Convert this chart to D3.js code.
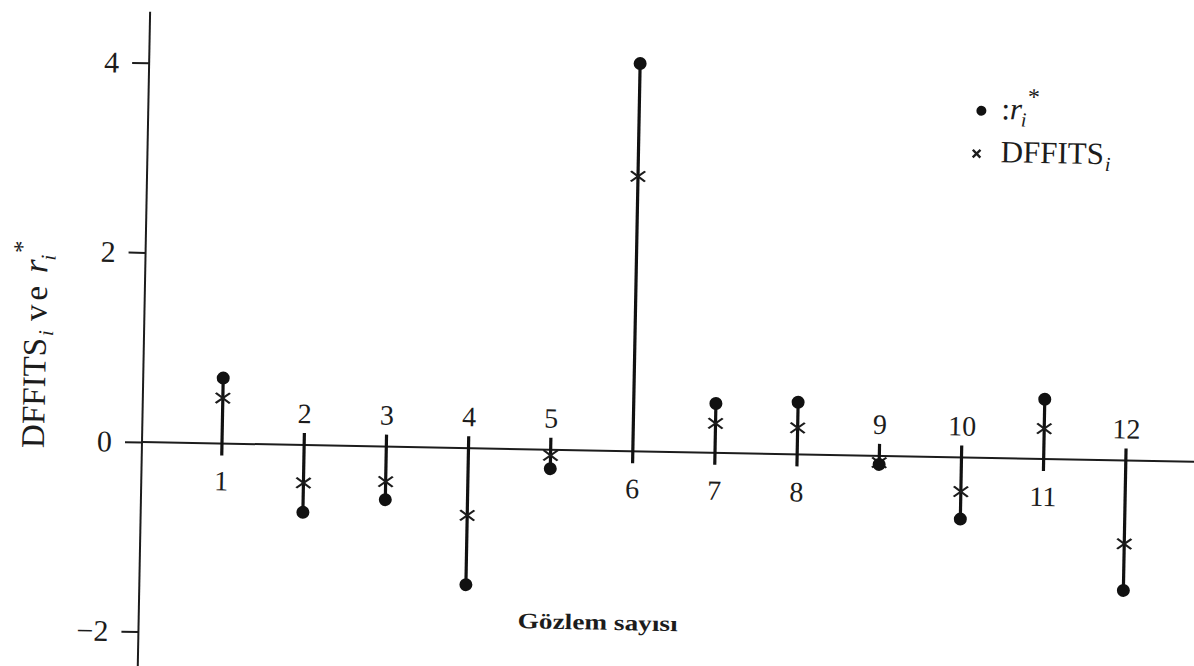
<!DOCTYPE html>
<html>
<head>
<meta charset="utf-8">
<style>
  body { margin: 0; background: #fff; }
  text { font-family: "Liberation Serif", "DejaVu Serif", serif; fill: #1c1c1c; }
</style>
</head>
<body>
<div class="chartContainer"></div>

<script src="https://d3js.org/d3.v7.min.js"></script>
<script>
    // gözlem numaraları ve değerler
    const obs = [1, 2, 3, 4, 5, 6, 7, 8, 9, 10, 11, 12];
    const rStar = [0.69, -0.71, -0.56, -1.44, -0.20, 4.09, 0.52, 0.55, -0.09, -0.65, 0.63, -1.37];
    const dffits = [0.48, -0.40, -0.37, -0.71, -0.06, 2.90, 0.31, 0.28, -0.07, -0.36, 0.32, -0.88];
    const yTicks = [-2, 0, 2, 4];

    const W = 1194, H = 666;
    const ox = 142, oy = 442;   // eksenlerin kesişimi
    const tilt = 1.08;          // taranmış sayfanın eğikliği

    const svg = d3.select('.chartContainer')
                  .append('svg')
                  .attr('width', W)
                  .attr('height', H);

    const g = svg.append('g')
                 .attr('transform', `rotate(${tilt},${ox},${oy})`);

    const x = d3.scaleLinear().domain([1, 12]).range([222, 1126]);
    const y = d3.scaleLinear().domain([-2, 4]).range([oy + 2 * 94.8, oy - 4 * 94.8]);

    // y ekseni
    g.append('line')
     .attr('x1', ox).attr('x2', ox)
     .attr('y1', y(4.54)).attr('y2', y(-2.8))
     .style('stroke', '#1c1c1c').style('stroke-width', 2);

    const yAxis = g.append('g')
                   .attr('transform', `translate(${ox},0)`)
                   .call(d3.axisLeft(y).tickValues(yTicks).tickFormat(d3.format('d')).tickSize(17).tickPadding(13));
    yAxis.select('.domain').remove();
    yAxis.selectAll('.tick line').style('stroke', '#1c1c1c').style('stroke-width', 2);
    yAxis.selectAll('.tick text')
         .style('font-size', '30px')
         .style('font-family', '"Liberation Serif", serif')
         .attr('fill', '#1c1c1c');

    // sıfır çizgisi
    g.append('line')
     .attr('x1', ox).attr('x2', 1230)
     .attr('y1', y(0)).attr('y2', y(0))
     .style('stroke', '#1c1c1c').style('stroke-width', 2);

    const rows = obs.map((d, i) => ({ n: d, r: rStar[i], f: dffits[i] }));

    // gövde çizgileri
    g.append('g')
     .selectAll('line')
     .data(rows)
     .enter()
     .append('line')
     .attr('x1', d => x(d.n)).attr('x2', d => x(d.n))
     .attr('y1', d => d.r >= 0 ? y(0) + 12 : y(0) - 12)
     .attr('y2', d => y(d.r))
     .style('stroke', '#111')
     .style('stroke-width', 3.2);

    // gözlem numaraları
    g.append('g')
     .selectAll('text')
     .data(rows)
     .enter()
     .append('text')
     .attr('x', d => x(d.n))
     .attr('y', d => d.r >= 0 ? y(0) + 47 : y(0) - 22)
     .attr('text-anchor', 'middle')
     .style('font-size', '28px')
     .text(d => d.n);

    // DFFITS işaretleri
    const cross = d3.symbol().type(d3.symbolX).size(86);
    g.append('g')
     .selectAll('path')
     .data(rows)
     .enter()
     .append('path')
     .attr('d', cross)
     .attr('transform', d => `translate(${x(d.n)},${y(d.f)}) scale(1.25,0.9)`)
     .style('fill', 'none')
     .style('stroke', '#1c1c1c')
     .style('stroke-width', 2);

    // r* noktaları
    g.append('g')
     .selectAll('circle')
     .data(rows)
     .enter()
     .append('circle')
     .attr('cx', d => x(d.n))
     .attr('cy', d => y(d.r))
     .attr('r', 6.5)
     .style('fill', '#111');

    // lejant
    g.append('circle').attr('cx', 975).attr('cy', 95).attr('r', 5).style('fill', '#111');
    g.append('path')
     .attr('d', d3.symbol().type(d3.symbolX).size(40))
     .attr('transform', 'translate(971,138)')
     .style('fill', 'none').style('stroke', '#1c1c1c').style('stroke-width', 2.4);

    const l1 = g.append('text').attr('x', 995).attr('y', 103).style('font-size', '31px');
    l1.append('tspan').text(':');
    l1.append('tspan').style('font-style', 'italic').text('r');
    l1.append('tspan').style('font-style', 'italic').style('font-size', '20px').attr('dx', -1).attr('dy', 7).text('i');
    l1.append('tspan').style('font-size', '24px').attr('dx', 1).attr('dy', -22).text('*');

    const l2 = g.append('text').attr('x', 995).attr('y', 146).style('font-size', '31px');
    l2.append('tspan').text('DFFITS');
    l2.append('tspan').style('font-style', 'italic').style('font-size', '20px').attr('dx', 1).attr('dy', 7).text('i');

    // y ekseni başlığı
    const yl = g.append('text')
                .attr('transform', 'translate(44,450) rotate(-90)')
                .style('font-size', '33px');
    yl.append('tspan').text('DFFITS');
    yl.append('tspan').style('font-style', 'italic').style('font-size', '21px').attr('dx', 2).attr('dy', 7).text('i');
    yl.append('tspan').attr('dy', -7).attr('dx', 9).style('letter-spacing', '4px').text('ve');
    yl.append('tspan').style('font-style', 'italic').style('font-size', '35px').attr('dx', 9).text('r');
    yl.append('tspan').style('font-style', 'italic').style('font-size', '21px').attr('dx', -1).attr('dy', 8).text('i');
    yl.append('tspan').style('font-size', '25px').attr('dx', 1).attr('dy', -25).text('*');

    // x ekseni başlığı
    g.append('text')
     .attr('x', 601).attr('y', 621)
     .attr('text-anchor', 'middle')
     .attr('textLength', 160)
     .attr('lengthAdjust', 'spacingAndGlyphs')
     .style('font-size', '22px')
     .style('font-weight', 'bold')
     .text('Gözlem sayısı');
</script>
</body>
</html>
